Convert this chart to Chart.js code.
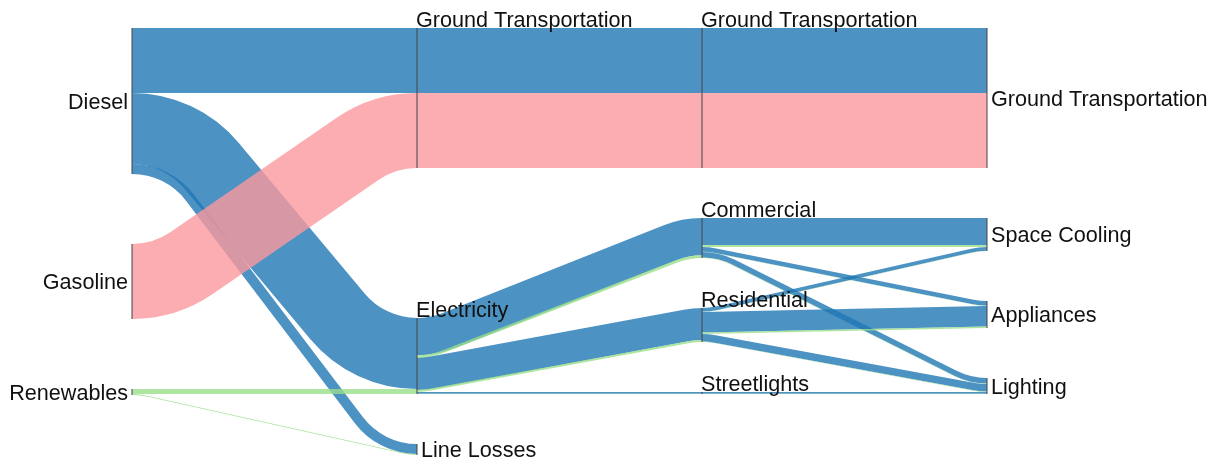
<!DOCTYPE html>
<html>
<head>
<meta charset="utf-8">
<script src="https://cdn.jsdelivr.net/npm/chart.js@4.4.1/dist/chart.umd.min.js"></script>
<style>
  html, body { margin: 0; padding: 0; background: #fff; }
  #wrap { width: 1217px; height: 462px; }
</style>
</head>
<body>
<div id="wrap"><canvas id="sankey" width="1217" height="462"></canvas></div>
<script>
// nodes of each column, top to bottom
let sources = ["Diesel", "Gasoline", "Renewables"];
let stage2 = ["Ground Transportation", "Electricity", "Line Losses"];
let stage3 = ["Ground Transportation", "Commercial", "Residential", "Streetlights"];
let uses = ["Ground Transportation", "Space Cooling", "Appliances", "Lighting"];
let fuels = ["Diesel", "Gasoline", "Renewables"];

// flows: [from, to, fuel, value]
let links1 = [
  ["Diesel", "Ground Transportation", "Diesel", 65],
  ["Diesel", "Electricity", "Diesel", 71],
  ["Diesel", "Line Losses", "Diesel", 10],
  ["Gasoline", "Ground Transportation", "Gasoline", 75],
  ["Renewables", "Electricity", "Renewables", 5],
  ["Renewables", "Line Losses", "Renewables", 1],
];
let links2 = [
  ["Ground Transportation", "Ground Transportation", "Diesel", 65],
  ["Ground Transportation", "Ground Transportation", "Gasoline", 75],
  ["Electricity", "Commercial", "Diesel", 37.3],
  ["Electricity", "Commercial", "Renewables", 2.7],
  ["Electricity", "Residential", "Diesel", 31.9],
  ["Electricity", "Residential", "Renewables", 2.1],
  ["Electricity", "Streetlights", "Diesel", 1.8],
  ["Electricity", "Streetlights", "Renewables", 0.2],
];
let links3 = [
  ["Ground Transportation", "Ground Transportation", "Diesel", 65],
  ["Ground Transportation", "Ground Transportation", "Gasoline", 75],
  ["Commercial", "Space Cooling", "Diesel", 27.0],
  ["Commercial", "Space Cooling", "Renewables", 2.0],
  ["Commercial", "Appliances", "Diesel", 4.7],
  ["Commercial", "Appliances", "Renewables", 0.3],
  ["Commercial", "Lighting", "Diesel", 5.6],
  ["Commercial", "Lighting", "Renewables", 0.4],
  ["Residential", "Space Cooling", "Diesel", 3.7],
  ["Residential", "Space Cooling", "Renewables", 0.3],
  ["Residential", "Appliances", "Diesel", 20.6],
  ["Residential", "Appliances", "Renewables", 1.4],
  ["Residential", "Lighting", "Diesel", 7.6],
  ["Residential", "Lighting", "Renewables", 0.4],
  ["Streetlights", "Lighting", "Diesel", 1.8],
  ["Streetlights", "Lighting", "Renewables", 0.2],
];

const fuelColors = {
  Diesel: "rgba(31,119,180,0.8)",
  Gasoline: "rgba(250,152,158,0.8)",
  Renewables: "rgba(152,223,138,0.8)",
};

// layout: gap between nodes (in value units) and how some nodes are placed
const nodePad = 50;
const innerRadius = 68; // px, radius of the inside edge of a bend
const placement = {
  "1:Electricity": { alignWith: "2:Streetlights" },
  "0:Renewables": { alignWith: "1:Electricity" },
  "0:Gasoline": "center",
};

// build the graph
const columns = [sources, stage2, stage3, uses];
const nodes = [];
columns.forEach((names, c) => {
  names.forEach((name, i) => {
    nodes.push({ id: c + ":" + name, col: c, idx: i, label: name, ins: [], outs: [] });
  });
});
const byId = {};
nodes.forEach((n) => (byId[n.id] = n));

const links = [];
[links1, links2, links3].forEach((rows, s) => {
  rows.forEach(([from, to, fuel, value]) => {
    const l = { source: byId[s + ":" + from], target: byId[s + 1 + ":" + to], fuel: fuel, value: value };
    l.source.outs.push(l);
    l.target.ins.push(l);
    links.push(l);
  });
});

const total = (arr) => arr.reduce((a, l) => a + l.value, 0);
nodes.forEach((n) => {
  n.value = Math.max(total(n.ins), total(n.outs));
  n.outs.sort((a, b) => a.target.idx - b.target.idx || fuels.indexOf(a.fuel) - fuels.indexOf(b.fuel));
  n.ins.sort((a, b) => a.source.idx - b.source.idx || fuels.indexOf(a.fuel) - fuels.indexOf(b.fuel));
  let off = 0;
  n.outs.forEach((l) => { l.sy = off; off += l.value; });
  off = 0;
  n.ins.forEach((l) => { l.ty = off; off += l.value; });
});

function linkBetween(a, b) {
  return a.outs.find((l) => l.target === b) || a.ins.find((l) => l.source === b);
}

// place columns right to left
[3, 2, 1, 0].forEach((c) => {
  const col = nodes.filter((n) => n.col === c);
  let prev = null;
  col.forEach((n) => {
    const rule = placement[n.id] || "pack";
    if (rule === "center") return;
    if (rule.alignWith) {
      const other = byId[rule.alignWith];
      const l = linkBetween(n, other);
      n.y0 = l.source === n ? other.y0 + l.ty - l.sy : other.y0 + l.sy - l.ty;
    } else {
      n.y0 = prev ? prev.y1 + nodePad : 0;
    }
    n.y1 = n.y0 + n.value;
    prev = n;
  });
  col.forEach((n, i) => {
    if (placement[n.id] !== "center") return;
    const above = i > 0 ? col[i - 1].y1 : 0;
    const below = col[i + 1].y0;
    n.y0 = above + (below - above - n.value) / 2;
    n.y1 = n.y0 + n.value;
  });
});

// band between (x0,y0) and (x1,y1) (centre line), two arcs joined by a straight piece
function bandPath(ctx, x0, y0, x1, y1, w) {
  const dir = y1 >= y0 ? 1 : -1;
  const dx = x1 - x0;
  const dy = Math.abs(y1 - y0);
  const h = w / 2;
  let r = innerRadius + h;
  if (dy > 0.01) r = Math.min(r, (dx * dx + dy * dy) / (4 * dy));
  r = Math.max(r, h);
  const B = 2 * r - dy;
  const theta = Math.asin(Math.min(1, (2 * r) / Math.hypot(dx, B))) - Math.atan2(B, dx);
  const up = -Math.PI / 2;
  const down = Math.PI / 2;
  ctx.save();
  ctx.translate(x0, y0);
  ctx.scale(1, dir);
  ctx.beginPath();
  ctx.moveTo(0, -h);
  ctx.arc(0, r, r + h, up, up + theta, false);
  ctx.arc(dx, dy - r, r - h, down + theta, down, true);
  ctx.lineTo(dx, dy + h);
  ctx.arc(dx, dy - r, r + h, down, down + theta, false);
  ctx.arc(0, r, r - h, up + theta, up, true);
  ctx.closePath();
  ctx.restore();
}

const labelFont = '21.6px "Liberation Sans", Arial, sans-serif';

const sankeyPlugin = {
  id: "sankey",
  afterDatasetsDraw(chart) {
    const { ctx } = chart;
    const xs = chart.scales.x;
    const ys = chart.scales.y;
    ctx.save();

    links.forEach((l) => {
      const x0 = xs.getPixelForValue(l.source.col);
      const x1 = xs.getPixelForValue(l.target.col);
      const s0 = ys.getPixelForValue(l.source.y0 + l.sy);
      const s1 = ys.getPixelForValue(l.source.y0 + l.sy + l.value);
      const t0 = ys.getPixelForValue(l.target.y0 + l.ty);
      const t1 = ys.getPixelForValue(l.target.y0 + l.ty + l.value);
      bandPath(ctx, x0, (s0 + s1) / 2, x1, (t0 + t1) / 2, s1 - s0);
      ctx.fillStyle = fuelColors[l.fuel];
      ctx.fill();
    });

    ctx.strokeStyle = "rgba(70,70,70,0.85)";
    ctx.lineWidth = 1.2;
    ctx.font = labelFont;
    ctx.fillStyle = "#111";
    nodes.forEach((n) => {
      const x = xs.getPixelForValue(n.col);
      const top = ys.getPixelForValue(n.y0);
      const bottom = ys.getPixelForValue(n.y1);
      ctx.beginPath();
      ctx.moveTo(x, top);
      ctx.lineTo(x, bottom);
      ctx.stroke();

      if (n.ins.length === 0) {
        ctx.textAlign = "right";
        ctx.textBaseline = "middle";
        ctx.fillText(n.label, x - 4, (top + bottom) / 2 + 2);
      } else if (n.outs.length === 0) {
        ctx.textAlign = "left";
        ctx.textBaseline = "middle";
        ctx.fillText(n.label, x + 4, (top + bottom) / 2 + 2);
      } else {
        ctx.textAlign = "left";
        ctx.textBaseline = "alphabetic";
        ctx.fillText(n.label, x - 1, top - 1);
      }
    });
    ctx.restore();
  },
};

new Chart(document.getElementById("sankey"), {
  type: "scatter",
  plugins: [sankeyPlugin],
  data: { datasets: [{ data: [] }] },
  options: {
    responsive: false,
    animation: false,
    layout: { padding: { left: 132, right: 230, top: 28, bottom: 7 } },
    plugins: { legend: { display: false }, tooltip: { enabled: false } },
    scales: {
      x: { type: "linear", min: 0, max: 3, display: false },
      y: { type: "linear", min: 0, max: 427, reverse: true, display: false },
    },
  },
});
</script>
</body>
</html>
